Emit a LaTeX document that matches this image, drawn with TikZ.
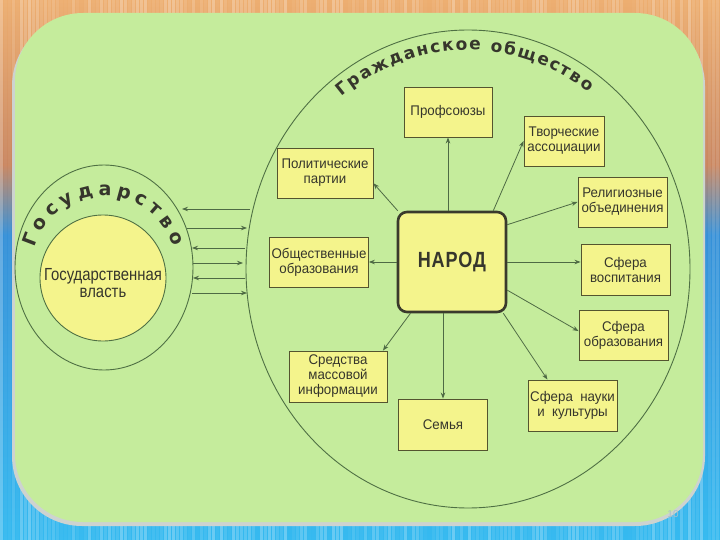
\documentclass[tikz,border=0pt]{standalone}
\usepackage{fontspec}
\setmainfont{Liberation Sans}
\newfontfamily\boxfont[FakeStretch=0.95]{Liberation Sans}
\newfontfamily\govfont[FakeStretch=0.85]{Liberation Sans}
\newfontfamily\narodfont[FakeStretch=0.82]{Liberation Sans}
\newfontfamily\arcfont{DejaVu Sans}
\usetikzlibrary{arrows.meta,decorations.text,shapes.geometric}
\definecolor{bgorange}{HTML}{EDAE70}
\definecolor{bgbrown}{HTML}{C98660}
\definecolor{bgblue}{HTML}{3590D8}
\definecolor{bgcyan}{HTML}{35BAF0}
\definecolor{panelgreen}{HTML}{C5EC9C}
\definecolor{panelrim}{HTML}{CDD3D0}
\definecolor{boxfill}{HTML}{F4F48C}
\definecolor{boxline}{HTML}{54542F}
\definecolor{narodline}{HTML}{3A3A2C}
\definecolor{linec}{HTML}{4E6A44}
\definecolor{ringc}{HTML}{4F7044}
\definecolor{textc}{HTML}{36362C}
\definecolor{pagec}{HTML}{A9BFCB}
\begin{document}
\begin{tikzpicture}[x=1pt,y=-1pt,
  box/.style={draw=boxline,line width=0.9pt,fill=boxfill,text=textc,align=center,inner sep=2pt,
    font=\boxfont\fontsize{14}{15}\selectfont},
  conn/.style={draw=linec,line width=0.8pt,-{Stealth[length=6pt,width=4.5pt]}},
  ring/.style={draw=ringc,line width=0.9pt,inner sep=0pt}
]
\useasboundingbox (0,0) rectangle (720,540);
% background
\shade[top color=bgorange, bottom color=bgbrown] (0,0) rectangle (720,165);
\shade[top color=bgbrown, bottom color=bgblue] (0,165) rectangle (720,235);
\shade[top color=bgblue, bottom color=bgcyan] (0,235) rectangle (720,540);
\pgfmathsetseed{7}
\foreach \i in {0,4,...,716}{
  \pgfmathsetmacro\o{rnd*0.28}
  \fill[white,opacity=\o] (\i,0) rectangle ++(2.5,540);
}
% panel
\fill[panelrim,rounded corners=70pt] (12,16) rectangle (705,526);
\fill[panelgreen,rounded corners=68pt] (15,13) rectangle (703,522);

% civil society ellipse
\node[ring,ellipse,minimum width=444pt,minimum height=478pt] (civ) at (468,269) {};
\path[decorate,decoration={text along path,text align={fit to path},text color=textc,
  text={|\arcfont\bfseries\fontsize{17}{17}\selectfont|Гражданское общество}}]
  (468,270) ++(-128:205 and 220) arc[start angle=-128,end angle=-54,x radius=205,y radius=220];

% state
\node[ring,ellipse,minimum width=178pt,minimum height=205pt] (gov) at (104,267.5) {};
\node[ring,circle,fill=boxfill,minimum size=126pt] (power) at (103,278) {};
\node[text=textc,align=center,font=\govfont\fontsize{17.5}{17}\selectfont] (powert) at (103,283) {Государственная\\власть};
\path[decorate,decoration={text along path,text align={fit to path},text color=textc,
  text={|\arcfont\bfseries\fontsize{19}{19}\selectfont|Государство}}]
  (104,267.5) ++(-164:72) arc[start angle=-164,end angle=-17,radius=72];

% arrows between state and society
\foreach [count=\i] \yy/\xa/\xb in {209/182/250,228/187/247,248/192/245,263/193/243,278/193/245,293/192/247}{
  \coordinate (gl\i) at (\xa,\yy);
  \coordinate (gr\i) at (\xb,\yy);
}
\draw[conn] (gr1) -- (gl1);
\draw[conn] (gl2) -- (gr2);
\draw[conn] (gr3) -- (gl3);
\draw[conn] (gl4) -- (gr4);
\draw[conn] (gr5) -- (gl5);
\draw[conn] (gl6) -- (gr6);

% people
\node[draw=narodline,line width=2.6pt,fill=boxfill,rounded corners=9pt,minimum width=108pt,minimum height=100pt,
  text=textc,font=\narodfont\bfseries\fontsize{22}{22}\selectfont] (narod) at (452,262) {\raisebox{-5pt}{Н\kern0.8ptА\kern0.8ptР\kern0.8ptО\kern0.8ptД}};

% boxes
\node[box,minimum width=88pt,minimum height=50pt] (prof) at (448,112) {Профсоюзы};
\node[box,minimum width=80pt,minimum height=50pt] (tvor) at (564,141) {Творческие\\ассоциации};
\node[box,minimum width=96pt,minimum height=50pt] (polit) at (325,173) {Политические\\партии};
\node[box,minimum width=89pt,minimum height=50pt] (relig) at (622.5,202) {Религиозные\\объединения};
\node[box,minimum width=98pt,minimum height=50pt] (obshch) at (319,262) {Общественные\\образования};
\node[box,minimum width=89pt,minimum height=51pt] (vosp) at (625.5,269.5) {Сфера\\воспитания};
\node[box,minimum width=89pt,minimum height=50pt] (obraz) at (623.5,335) {Сфера\\образования};
\node[box,minimum width=98pt,minimum height=51pt] (smi) at (338,376.5) {Средства\\массовой\\информации};
\node[box,minimum width=89pt,minimum height=51pt] (semya) at (443,424.5) {Семья};
\node[box,minimum width=89pt,minimum height=51pt] (nauka) at (572.5,405.5) {Сфера\ \ науки\\и\ \ культуры};

% connectors from people
\draw[conn] (narod.north -| prof.south) -- (prof.south);
\draw[conn] ([xshift=-14pt]narod.north east) -- (tvor.west);
\draw[conn] ([xshift=1pt]narod.north west) -- (polit.-12);
\draw[conn] (narod.34) -- (relig.west);
\draw[conn] (narod.west) -- (obshch.east);
\draw[conn] (narod.east) -- (narod.east -| vosp.west);
\draw[conn] (narod.-27) -- (obraz.175);
\draw[conn] (narod.-45) -- (nauka.134);
\draw[conn] (semya.north |- narod.south) -- (semya.north);
\draw[conn] (narod.-129.5) -- (smi.30);

% page number
\node[text=pagec,font=\fontsize{10}{10}\selectfont] (page) at (673,514) {10};
\end{tikzpicture}
\end{document}
